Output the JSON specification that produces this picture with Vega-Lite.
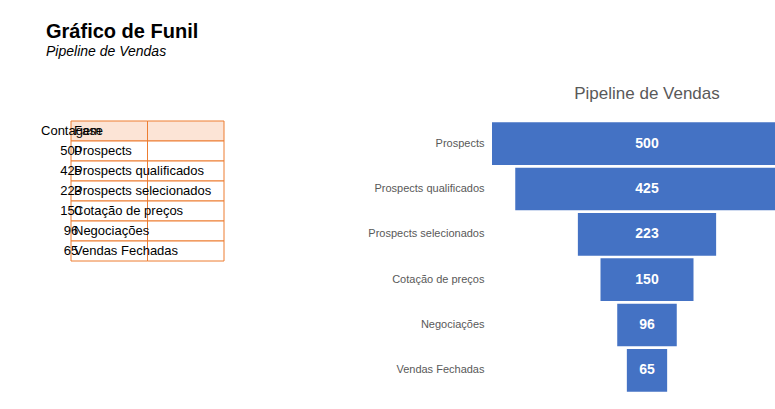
{
"$schema":"https://vega.github.io/schema/vega-lite/v6.json",
"background":"white",
"padding":{"left":41,"top":22,"right":10,"bottom":5},
"title":{"text":"Gráfico de Funil","subtitle":"Pipeline de Vendas","anchor":"start","dx":5,"fontSize":20,"font":"Liberation Sans","fontWeight":"bold","subtitleFont":"Liberation Sans","subtitleFontSize":14,"subtitleFontStyle":"italic","subtitleColor":"#000","color":"#000","offset":4},
"config":{"view":{"stroke":null},"font":"Liberation Sans"},
"datasets":{
"cells":[
{"row":"Fase","col":"Fase","text":"Fase"},{"row":"Fase","col":"Contagem","text":"Contagem"},
{"row":"Prospects","col":"Fase","text":"Prospects"},{"row":"Prospects","col":"Contagem","text":"500"},
{"row":"Prospects qualificados","col":"Fase","text":"Prospects qualificados"},{"row":"Prospects qualificados","col":"Contagem","text":"425"},
{"row":"Prospects selecionados","col":"Fase","text":"Prospects selecionados"},{"row":"Prospects selecionados","col":"Contagem","text":"223"},
{"row":"Cotação de preços","col":"Fase","text":"Cotação de preços"},{"row":"Cotação de preços","col":"Contagem","text":"150"},
{"row":"Negociações","col":"Fase","text":"Negociações"},{"row":"Negociações","col":"Contagem","text":"96"},
{"row":"Vendas Fechadas","col":"Fase","text":"Vendas Fechadas"},{"row":"Vendas Fechadas","col":"Contagem","text":"65"}
],
"funnel":[
{"fase":"Prospects","contagem":500},{"fase":"Prospects qualificados","contagem":425},{"fase":"Prospects selecionados","contagem":223},{"fase":"Cotação de preços","contagem":150},{"fase":"Negociações","contagem":96},{"fase":"Vendas Fechadas","contagem":65}
]},
"hconcat":[
{"width":224,"height":140,"data":{"name":"cells"},
"encoding":{"y":{"field":"row","type":"nominal","scale":{"domain":["Fase","Prospects","Prospects qualificados","Prospects selecionados","Cotação de preços","Negociações","Vendas Fechadas"],"paddingInner":0,"paddingOuter":0},"axis":null}},
"layer":[
{"mark":{"type":"rect","stroke":"#ED7D31","strokeWidth":1},"encoding":{"x":{"field":"col","type":"nominal","scale":{"domain":["Fase","Contagem"],"range":[0,153,224]},"axis":null},"fill":{"condition":{"test":"datum.row==='Fase'","value":"#FCE4D6"},"value":"#ffffff"}}},
{"transform":[{"filter":"datum.col==='Fase'"}],"mark":{"type":"text","align":"left","dx":3,"fontSize":13,"color":"#000"},"encoding":{"x":{"datum":0,"type":"quantitative","scale":{"domain":[0,224],"range":[0,224]},"axis":null},"text":{"field":"text"},"fontWeight":{"condition":{"test":"datum.row==='Fase'","value":"bold"},"value":"normal"}}},
{"transform":[{"filter":"datum.col==='Contagem'"}],"mark":{"type":"text","fontSize":13,"color":"#000"},"encoding":{"x":{"datum":188,"type":"quantitative","axis":null},"text":{"field":"text"},"fontWeight":{"condition":{"test":"datum.row==='Fase'","value":"bold"},"value":"normal"}}}
],
"resolve":{"scale":{"x":"independent"}}},
{"width":310,"height":272,"data":{"name":"funnel"},
"title":{"text":["","Pipeline de Vendas"],"lineHeight":22,"fontSize":17,"fontWeight":"normal","color":"#595959","anchor":"middle","offset":18},
"encoding":{"y":{"field":"fase","type":"nominal","sort":null,"scale":{"paddingInner":0.06,"paddingOuter":0.03},"axis":{"title":null,"domain":false,"ticks":false,"labelFontSize":11,"labelColor":"#595959","labelPadding":8}}},
"layer":[
{"mark":{"type":"bar","color":"#4472C4"},"encoding":{"x":{"field":"contagem","type":"quantitative","stack":"center","axis":null,"scale":{"domain":[0,500],"nice":false}}}},
{"mark":{"type":"text","color":"white","fontWeight":"bold","fontSize":14},"encoding":{"x":{"datum":250,"type":"quantitative"},"text":{"field":"contagem"}}}
]}
],
"spacing":72
}
